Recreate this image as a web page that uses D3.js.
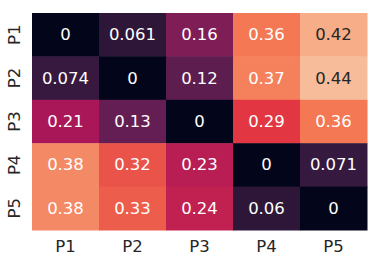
<!DOCTYPE html>
<html>
<head>
<meta charset="utf-8">
<script src="https://cdn.jsdelivr.net/npm/d3@7"></script>
<style>
  body { margin: 0; background: #fff; }
  text { font-family: "DejaVu Sans", sans-serif; }
</style>
</head>
<body>
<div id="chart"></div>
<script>
// data
var rows = ["P1", "P2", "P3", "P4", "P5"]
var cols = ["P1", "P2", "P3", "P4", "P5"]
var values = [
  [0, 0.061, 0.16, 0.36, 0.42],
  [0.074, 0, 0.12, 0.37, 0.44],
  [0.21, 0.13, 0, 0.29, 0.36],
  [0.38, 0.32, 0.23, 0, 0.071],
  [0.38, 0.33, 0.24, 0.06, 0]
]
var labels = [
  ["0", "0.061", "0.16", "0.36", "0.42"],
  ["0.074", "0", "0.12", "0.37", "0.44"],
  ["0.21", "0.13", "0", "0.29", "0.36"],
  ["0.38", "0.32", "0.23", "0", "0.071"],
  ["0.38", "0.33", "0.24", "0.06", "0"]
]

var margin = {top: 13, right: 12, bottom: 32, left: 32},
    width = 379 - margin.left - margin.right,
    height = 262 - margin.top - margin.bottom

var svg = d3.select("#chart")
  .append("svg")
    .attr("width", 379)
    .attr("height", 262)
  .append("g")
    .attr("transform", "translate(" + margin.left + "," + margin.top + ")")

var x = d3.scaleBand().domain(cols).range([0, width])
var y = d3.scaleBand().domain(rows).range([0, height])

// rocket-ish colormap, vmin 0 / vmax 0.5
var rocket = d3.scaleLinear()
  .domain([0, 1/7, 2/7, 3/7, 4/7, 5/7, 6/7, 1])
  .range(["#03051a", "#35193e", "#701f57", "#ad1759", "#e13342", "#f37651", "#f6b48f", "#faebdd"])
  .interpolate(d3.interpolateRgb)
var color = function(v) { return rocket(Math.min(1, v / 0.5)) }

var cells = []
values.forEach(function(r, i) {
  r.forEach(function(v, j) {
    cells.push({row: rows[i], col: cols[j], value: v, label: labels[i][j]})
  })
})

svg.selectAll("rect")
  .data(cells)
  .enter()
  .append("rect")
    .attr("x", function(d) { return x(d.col) })
    .attr("y", function(d) { return y(d.row) })
    .attr("width", x.bandwidth() + 0.5)
    .attr("height", y.bandwidth() + 0.5)
    .style("fill", function(d) { return color(d.value) })

function lum(c) {
  var rgb = d3.rgb(c)
  var f = function(u) { u = u / 255; return u <= 0.03928 ? u / 12.92 : Math.pow((u + 0.055) / 1.055, 2.4) }
  return 0.2126 * f(rgb.r) + 0.7152 * f(rgb.g) + 0.0722 * f(rgb.b)
}

svg.selectAll(".val")
  .data(cells)
  .enter()
  .append("text")
    .attr("class", "val")
    .attr("x", function(d) { return x(d.col) + x.bandwidth() / 2 })
    .attr("y", function(d) { return y(d.row) + y.bandwidth() / 2 })
    .attr("text-anchor", "middle")
    .attr("dominant-baseline", "central")
    .style("font-size", "16.5px")
    .style("fill", function(d) { return lum(color(d.value)) > 0.408 ? "#262626" : "#ffffff" })
    .text(function(d) { return d.label })

// X axis
svg.append("g")
  .attr("transform", "translate(0," + height + ")")
  .call(d3.axisBottom(x).tickSize(0).tickPadding(10))
  .call(function(g) { g.select(".domain").remove() })
  .selectAll("text")
    .style("font-family", "DejaVu Sans")
    .style("font-size", "16.5px")
    .style("fill", "#262626")

// Y axis
svg.append("g")
  .call(d3.axisLeft(y).tickSize(0))
  .call(function(g) { g.select(".domain").remove() })
  .selectAll("text")
    .attr("x", 0)
    .attr("dy", null)
    .attr("text-anchor", "middle")
    .attr("dominant-baseline", "central")
    .attr("transform", "translate(-18,0) rotate(-90)")
    .style("font-family", "DejaVu Sans")
    .style("font-size", "16.5px")
    .style("fill", "#262626")
</script>
</body>
</html>
